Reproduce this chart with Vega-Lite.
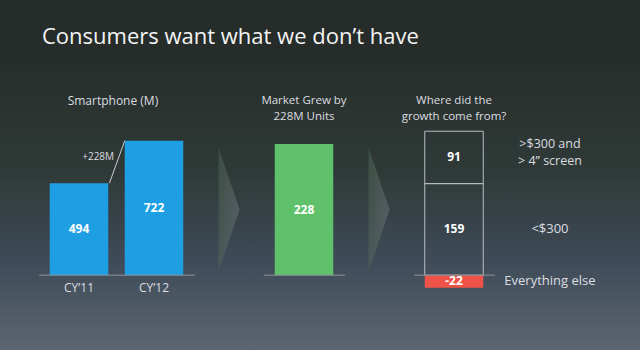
{
  "$schema": "https://vega.github.io/schema/vega-lite/v6.json",
  "width": 640,
  "height": 350,
  "autosize": {"type": "fit", "contains": "padding"},
  "padding": {"top": 26, "left": 0, "right": 0, "bottom": 0},
  "background": "#262c29",
  "title": {
    "text": "Consumers want what we don’t have",
    "anchor": "start",
    "dx": 42,
    "fontSize": 22,
    "font": "Open Sans",
    "fontWeight": "normal",
    "color": "#f4f4f4",
    "offset": 8
  },
  "config": {
    "font": "Open Sans",
    "view": {
      "stroke": null,
      "fill": {
        "gradient": "linear",
        "x1": 0, "y1": 0, "x2": 0, "y2": 1,
        "stops": [
          {"offset": 0, "color": "#272e2a"},
          {"offset": 0.4, "color": "#2f3a38"},
          {"offset": 0.7, "color": "#3f4b58"},
          {"offset": 1, "color": "#5c6672"}
        ]
      }
    }
  },
  "resolve": {"scale": {"y": "independent"}},
  "layer": [
    {
      "data": {"values": [{"cat": "a1"}, {"cat": "a2"}]},
      "mark": {
        "type": "point",
        "shape": "M -0.17 -1 L 0.17 0 L -0.17 1 Z",
        "size": 15376,
        "filled": true,
        "opacity": 0.45,
        "yOffset": 6,
        "fill": {
          "gradient": "linear",
          "x1": 0, "y1": 0, "x2": 1, "y2": 0,
          "stops": [
            {"offset": 0, "color": "#4f6a55"},
            {"offset": 1, "color": "#7d7f88"}
          ]
        },
        "strokeWidth": 0
      },
      "encoding": {
        "x": {"field": "cat", "type": "nominal", "axis": null,
              "scale": {"domain": ["CY’11", "CY’12", "a1", "Market", "a2", "Growth", "Label"], "range": [0, 608], "paddingInner": 0.22, "paddingOuter": 0.663}}
      }
    },
    {
      "layer": [
        {
          "data": {"values": [{"cat": "CY’11", "v": 494}, {"cat": "CY’12", "v": 722}]},
          "transform": [{"stack": "v", "groupby": ["cat"], "as": ["v0", "v1"]}],
          "layer": [
            {
              "mark": {"type": "bar", "color": "#1f9fe3"},
              "encoding": {
                "x": {"field": "cat", "type": "nominal", "axis": null,
                      "scale": {"domain": ["CY’11", "CY’12", "a1", "Market", "a2", "Growth", "Label"], "range": [0, 608], "paddingInner": 0.22, "paddingOuter": 0.663}},
                "y": {"field": "v1", "type": "quantitative", "axis": null, "scale": {"domain": [-402, 1172], "nice": false, "zero": false}},
                "y2": {"field": "v0"}
              }
            },
            {
              "transform": [{"fold": ["v0", "v1"], "as": ["k", "pos"]}],
              "mark": {"type": "text", "color": "#ffffff", "fontWeight": "bold", "fontSize": 12},
              "encoding": {
                "x": {"field": "cat", "type": "nominal", "axis": null},
                "y": {"aggregate": "mean", "field": "pos", "type": "quantitative"},
                "text": {"field": "v", "type": "nominal"}
              }
            },
            {
              "mark": {"type": "text", "color": "#dcdde0", "fontSize": 12, "baseline": "top", "dy": 8},
              "encoding": {
                "x": {"field": "cat", "type": "nominal", "axis": null},
                "y": {"datum": 0},
                "text": {"field": "cat"}
              }
            }
          ]
        },
        {
          "data": {"values": [{"from": "CY’11", "to": "CY’12", "start": 494, "end": 722, "label": "+228M", "head": "Smartphone (M)"}]},
          "layer": [
            {
              "mark": {"type": "rule", "color": "#8d929a", "strokeWidth": 1},
              "encoding": {
                "x": {"field": "from", "type": "nominal", "bandPosition": -0.18, "axis": null},
                "x2": {"field": "to", "bandPosition": 1.2},
                "y": {"datum": 0}
              }
            },
            {
              "mark": {"type": "rule", "color": "#c9ccd2", "strokeWidth": 1},
              "encoding": {
                "x": {"field": "from", "type": "nominal", "bandPosition": 1.02, "axis": null},
                "x2": {"field": "to", "bandPosition": 0.0},
                "y": {"field": "start", "type": "quantitative"},
                "y2": {"field": "end"}
              }
            },
            {
              "mark": {"type": "text", "color": "#dcdde0", "fontSize": 10, "align": "right"},
              "encoding": {
                "x": {"field": "from", "type": "nominal", "bandPosition": 1.1, "axis": null},
                "y": {"datum": 635},
                "text": {"field": "label"}
              }
            },
            {
              "mark": {"type": "text", "color": "#dcdde0", "fontSize": 12},
              "encoding": {
                "x": {"field": "from", "type": "nominal", "bandPosition": 1.08, "axis": null},
                "y": {"datum": 933},
                "text": {"field": "head"}
              }
            }
          ]
        }
      ]
    },
    {
      "layer": [
        {
          "data": {"values": [
            {"cat": "Market", "seg": "market", "v": 228, "desc": ""},
            {"cat": "Growth", "seg": "premium", "v": 91, "desc": ">$300 and\n> 4” screen"},
            {"cat": "Growth", "seg": "low", "v": 159, "desc": "<$300"},
            {"cat": "Growth", "seg": "else", "v": -22, "desc": "Everything else"}
          ]},
          "transform": [{"stack": "v", "groupby": ["cat"], "sort": [{"field": "v", "order": "descending"}], "as": ["v0", "v1"]}],
          "layer": [
            {
              "mark": {"type": "bar", "strokeWidth": 1},
              "encoding": {
                "x": {"field": "cat", "type": "nominal", "axis": null},
                "y": {"field": "v1", "type": "quantitative", "axis": null, "scale": {"domain": [-130, 379], "nice": false, "zero": false}},
                "y2": {"field": "v0"},
                "fill": {"field": "seg", "type": "nominal", "legend": null,
                         "scale": {"domain": ["market", "premium", "low", "else"], "range": ["#5fc26b", "transparent", "transparent", "#ef5347"]}},
                "stroke": {"field": "seg", "type": "nominal", "legend": null,
                           "scale": {"domain": ["market", "premium", "low", "else"], "range": ["transparent", "#b9bcc4", "#b9bcc4", "transparent"]}}
              }
            },
            {
              "transform": [{"fold": ["v0", "v1"], "as": ["k", "pos"]}],
              "mark": {"type": "text", "color": "#ffffff", "fontWeight": "bold", "fontSize": 12},
              "encoding": {
                "x": {"field": "cat", "type": "nominal", "axis": null},
                "y": {"aggregate": "mean", "field": "pos", "type": "quantitative"},
                "text": {"field": "v", "type": "nominal"}
              }
            },
            {
              "transform": [{"filter": {"field": "seg", "oneOf": ["low", "else"]}}, {"fold": ["v0", "v1"], "as": ["k", "pos"]}],
              "mark": {"type": "text", "color": "#dcdde0", "fontSize": 13},
              "encoding": {
                "x": {"field": "cat", "type": "nominal", "bandPosition": 2.14, "axis": null},
                "y": {"aggregate": "mean", "field": "pos", "type": "quantitative"},
                "text": {"field": "desc"}
              }
            },
            {
              "transform": [{"filter": {"field": "seg", "equal": "premium"}}, {"fold": ["v0", "v1"], "as": ["k", "pos"]}],
              "mark": {"type": "text", "color": "#dcdde0", "fontSize": 12.5, "lineBreak": "\n", "lineHeight": 17, "dy": -13},
              "encoding": {
                "x": {"field": "cat", "type": "nominal", "bandPosition": 2.14, "axis": null},
                "y": {"aggregate": "mean", "field": "pos", "type": "quantitative"},
                "text": {"field": "desc"}
              }
            }
          ]
        },
        {
          "data": {"values": [
            {"cat": "Market", "head": "Market Grew by\n228M Units"},
            {"cat": "Growth", "head": "Where did the\ngrowth come from?"}
          ]},
          "layer": [
            {
              "mark": {"type": "rule", "color": "#8d929a", "strokeWidth": 1},
              "encoding": {
                "x": {"field": "cat", "type": "nominal", "bandPosition": -0.18, "axis": null},
                "x2": {"field": "cat", "bandPosition": 1.2},
                "y": {"datum": 0}
              }
            },
            {
              "mark": {"type": "text", "color": "#dcdde0", "fontSize": 11.5, "lineBreak": "\n", "lineHeight": 16},
              "encoding": {
                "x": {"field": "cat", "type": "nominal", "axis": null},
                "y": {"datum": 302},
                "text": {"field": "head"}
              }
            }
          ]
        }
      ]
    }
  ]
}
